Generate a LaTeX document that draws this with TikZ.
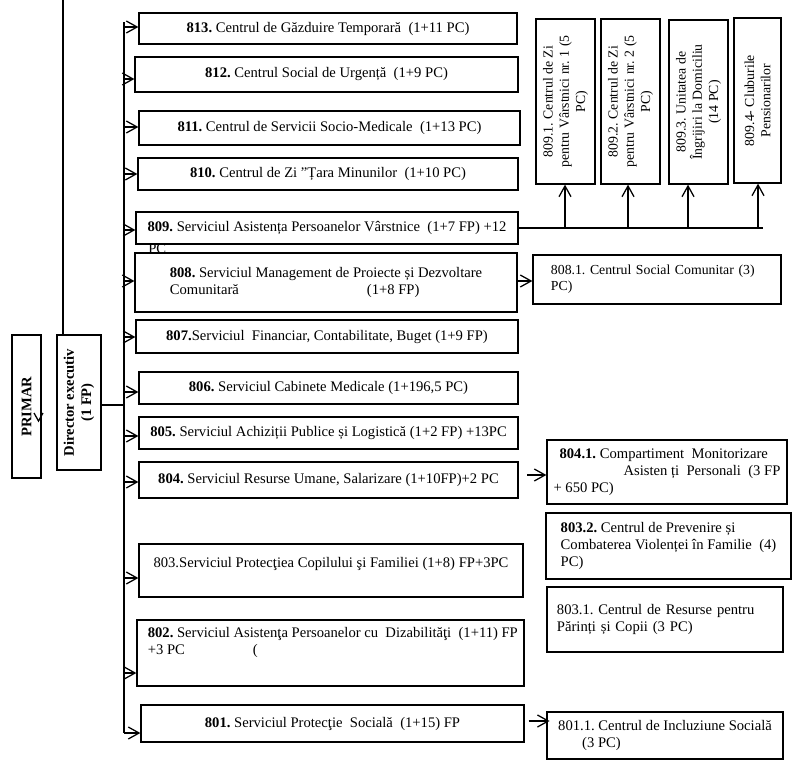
\documentclass[tikz,border=0pt]{standalone}
\usepackage{fontspec}
\setmainfont{Liberation Serif}
\usetikzlibrary{arrows.meta}

\newcommand{\boxfont}{\fontsize{10.4}{12.2}\selectfont\frenchspacing}
\newcommand{\vfont}{\fontsize{9.8}{11.6}\selectfont\frenchspacing}

\tikzset{
  box/.style={draw, line width=0.9pt, inner sep=0pt, fill=white, font=\boxfont},
  sz/.style 2 args={minimum width=#1*0.025cm, minimum height=#2*0.025cm},
  vtext/.style={rotate=90, align=center, inner sep=0pt, font=\vfont},
  tipo/.style={-{Straight Barb[length=0.27cm,width=0.3cm,line width=0.9pt]}, line width=0.9pt},
  link/.style={line width=0.9pt},
}

\begin{document}
\begin{tikzpicture}[x=0.025cm, y=-0.025cm]
\useasboundingbox (0,0) rectangle (795,764);

% conducere
\node[box, sz={29}{143}, label={[vtext, font=\boxfont\bfseries]center:PRIMAR}] (primar) at (26.5,406.5) {};
\node[box, sz={44}{135}, label={[vtext, font=\boxfont\bfseries]center:Director executiv\\(1 FP)}] (dir) at (79,402.5) {};
\draw[link] (34,413) -- (38.5,421) -- (43,413);

% servicii
\node[box, sz={378}{31}] (n813) at (328,28.5) {\textbf{813.} Centrul de Găzduire Temporară~ (1+11 PC)};
\node[box, sz={383}{35}] (n812) at (326.5,74.5) {\textbf{812.} Centrul Social de Urgență~ (1+9 PC)};
\node[box, sz={381}{34}] (n811) at (329.5,128) {\textbf{811.} Centrul de Servicii Socio-Medicale~ (1+13 PC)};
\node[box, sz={380}{32}] (n810) at (328,174) {\textbf{810.} Centrul de Zi ”Țara Minunilor~ (1+10 PC)};
\node[box, sz={382}{32}] (n809) at (327,228) {\textbf{809.} Serviciul Asistența Persoanelor Vârstnice~ (1+7 FP) +12};
\node[font=\boxfont, inner sep=0pt, anchor=west] (n809pc) at (148,249) {PC};
\node[box, sz={382}{59}, align=left] (n808) at (326,282.5)
  {\textbf{808.} Serviciul Management de Proiecte și Dezvoltare\\Comunitară\hspace{3.2cm}(1+8 FP)};
\node[box, sz={382}{33}] (n807) at (327,336.5) {\textbf{807.}Serviciul~ Financiar, Contabilitate, Buget (1+9 FP)};
\node[box, sz={379}{32}] (n806) at (328.5,388) {\textbf{806.} Serviciul Cabinete Medicale (1+196,5 PC)};
\node[box, sz={379}{32}] (n805) at (328.5,433) {\textbf{805.} Serviciul Achiziții Publice și Logistică (1+2 FP) +13PC};
\node[box, sz={379}{36}] (n804) at (328.5,480) {\textbf{804.} Serviciul Resurse Umane, Salarizare (1+10FP)+2 PC};
\node[box, sz={384}{53},
  label={[font=\boxfont, inner sep=0pt, anchor=north, yshift=-0.33cm]north:803.Serviciul Protecţiea Copilului şi Familiei (1+8) FP+3PC}] (n803) at (331,570.5) {};
\node[box, sz={387}{66},
  label={[font=\boxfont, align=left, inner sep=0pt, anchor=north west, xshift=0.28cm, yshift=-0.2cm]north west:{\textbf{802.} Serviciul Asistenţa Persoanelor cu~ Dizabilităţi~ (1+11) FP\\+3 PC\hspace{1.7cm}(}}] (n802) at (330.5,653) {};
\node[box, sz={383}{37}] (n801) at (332.5,723.5) {\textbf{801.} Serviciul Protecţie~ Socială~ (1+15) FP};

% subordonate 809
\node[box, sz={59}{165}, label={[vtext]center:809.1. Centrul de Zi\\pentru Vârstnici nr. 1 (5\\PC)}] (n8091) at (565.5,101.5) {};
\node[box, sz={59}{165}, label={[vtext]center:809.2. Centrul de Zi\\pentru Vârstnici nr. 2 (5\\PC)}] (n8092) at (630.5,101.5) {};
\node[box, sz={59}{164}, label={[vtext]center:809.3. Unitatea de\\Îngrijiri la Domiciliu\\(14 PC)}] (n8093) at (698.5,102) {};
\node[box, sz={47}{165}, label={[vtext]center:809.4- Cluburile\\Pensionarilor}] (n8094) at (757.5,100.5) {};

% alte subordonate
\node[box, sz={248}{49}, text width=5.3cm, align=left, font=\vfont] (n8081) at (657,279.5)
  {808.1. Centrul Social Comunitar (3)\\PC)};
\node[box, sz={240}{64}, align=left] (n8041) at (667,472)
  {\hspace*{0.15cm}\textbf{804.1.} Compartiment~ Monitorizare\\\hspace*{1.75cm}Asisten ți~ Personali~ (3 FP\\+ 650 PC)};
\node[box, sz={245}{66}, align=left] (n8032) at (668.5,546)
  {\textbf{803.2.} Centrul de Prevenire și\\Combaterea Violenței în Familie~ (4)\\PC)};
\node[box, sz={236}{65}, text width=5.4cm, align=left] (n8031) at (665,619.5)
  {803.1. Centrul de Resurse pentru\\Părinți și Copii (3 PC)};
\node[box, sz={236}{47}, align=left] (n8011) at (665,735.5)
  {801.1. Centrul de Incluziune Socială\\\hspace*{0.6cm}(3 PC)};

% legaturi
\coordinate (dirtop) at (63,0);
\coordinate (bustop) at (124,22);
\coordinate (busbot) at (124,733);
\draw[link] (dirtop) -- (dirtop |- dir.north);
\draw[link] (dir.east |- 0,405) -- (bustop |- 0,405);
\draw[link] (bustop) -- (busbot);
\foreach \n/\y in {n813/27, n812/79, n811/127, n810/174, n809/230, n808/281, n807/337,
                   n806/392, n805/436, n804/482, n803/578, n802/673, n801/733}
  \draw[tipo] (bustop |- 0,\y) -- (\n.west |- 0,\y);

\coordinate (l809end) at (763,228);
\draw[link] (n809.east |- 0,228) -- (l809end);
\foreach \n/\x in {n8091/565, n8092/628, n8093/688, n8094/758}
  \draw[tipo] (\x,228) -- (\n.south -| \x,0);

\draw[tipo] (n808.east |- 0,281) -- (n8081.west |- 0,281);
\draw[tipo] ([xshift=0.22cm]n804.east |- 0,475) -- (n8041.west |- 0,475);
\draw[tipo] ([xshift=0.1cm]n801.east |- 0,721) -- ([xshift=0.08cm]n8011.west |- 0,721);
\end{tikzpicture}
\end{document}
